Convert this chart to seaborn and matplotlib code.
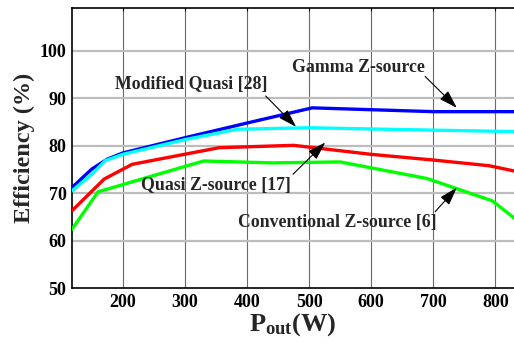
import matplotlib
matplotlib.use("Agg")
import matplotlib.pyplot as plt
import seaborn as sns
import pandas as pd

# ---- data ----
gamma_x = [118, 150, 175, 200, 300, 400, 505, 700, 830]
gamma_y = [71.2, 75.1, 77.2, 78.5, 81.7, 84.8, 88.0, 87.2, 87.2]

mquasi_x = [118, 150, 172, 200, 300, 385, 500, 700, 830]
mquasi_y = [70.5, 74.0, 76.9, 78.2, 81.3, 83.5, 83.8, 83.3, 83.0]

quasi_x = [118, 170, 215, 355, 475, 600, 700, 790, 830]
quasi_y = [66.3, 73.0, 76.1, 79.6, 80.1, 78.2, 77.0, 75.8, 74.7]

conv_x = [118, 160, 330, 440, 550, 690, 795, 830]
conv_y = [62.4, 70.3, 76.8, 76.4, 76.6, 73.1, 68.4, 64.8]

x_ticks = [200, 300, 400, 500, 600, 700, 800]
y_ticks = [50, 60, 70, 80, 90, 100]

labels = ["Gamma Z-source", "Modified Quasi [28]", "Quasi Z-source [17]", "Conventional Z-source [6]"]

sns.set_theme(style="white")
plt.rcParams['font.family'] = ['Liberation Serif', 'DejaVu Serif']
plt.rcParams['font.weight'] = 'bold'
plt.rcParams['mathtext.fontset'] = 'custom'
plt.rcParams['mathtext.rm'] = 'Liberation Serif:bold'
plt.rcParams['mathtext.bf'] = 'Liberation Serif:bold'
plt.rcParams['mathtext.it'] = 'Liberation Serif:bold'

fig = plt.figure(figsize=(5.14, 3.43), dpi=100)
ax = fig.add_axes([0.140, 0.160, 0.860, 0.816])

# grid
for xv in x_ticks:
    ax.axvline(xv, color='#6a6a6a', lw=0.8, zorder=0)
for yv in y_ticks[1:]:
    ax.axhline(yv, color='#bdbdbd', lw=1.6, zorder=0)

series = [
    (gamma_x, gamma_y, '#0000ff'),
    (mquasi_x, mquasi_y, '#00ffff'),
    (quasi_x, quasi_y, '#ff0000'),
    (conv_x, conv_y, '#00ff00'),
]
for (xs, ys, c), name in zip(series, labels):
    df = pd.DataFrame({'P': xs, 'E': ys})
    sns.lineplot(data=df, x='P', y='E', color=c, lw=2.4, ax=ax, zorder=3)

ax.set_xlim(118, 830)
ax.set_ylim(50, 109)
ax.set_xticks(x_ticks)
ax.set_yticks(y_ticks)
ax.set_xticklabels([str(v) for v in x_ticks], fontsize=13, fontweight='bold')
ax.set_yticklabels([str(v) for v in y_ticks], fontsize=13, fontweight='bold')
ax.tick_params(direction='in', length=2, width=0.8, pad=4, colors='black', top=True)
for s in ['left', 'top', 'bottom']:
    ax.spines[s].set_color('black')
    ax.spines[s].set_linewidth(1.2)
ax.spines['right'].set_visible(False)

ax.set_xlabel(r'$\mathbf{P_{out}(W)}$', fontsize=19, labelpad=0)
ax.set_ylabel('Efficiency (%)', fontsize=17.5, fontweight='bold', labelpad=3)

ap = dict(arrowstyle='-|>,head_length=0.7,head_width=0.22', color='black', lw=0.8,
          mutation_scale=16, shrinkA=0, shrinkB=0)
tk = dict(fontsize=12.8, fontweight='bold', ha='center', va='center')
ax.annotate(labels[1], xy=(479, 84.0), xytext=(310, 93.0), **tk)
ax.annotate('', xy=(479, 84.0), xytext=(430, 90.5), arrowprops=ap)
ax.annotate(labels[0], xy=(738, 88.0), xytext=(580, 96.5), **tk)
ax.annotate('', xy=(738, 88.0), xytext=(687, 94.6), arrowprops=ap)
ax.annotate(labels[2], xy=(526, 80.7), xytext=(350, 71.7), **tk)
ax.annotate('', xy=(526, 80.7), xytext=(474, 74.0), arrowprops=ap)
ax.annotate(labels[3], xy=(738, 71.2), xytext=(545, 63.8), **tk)
ax.annotate('', xy=(738, 71.2), xytext=(703, 66.1), arrowprops=ap)

fig.savefig('out.png', dpi=100)
